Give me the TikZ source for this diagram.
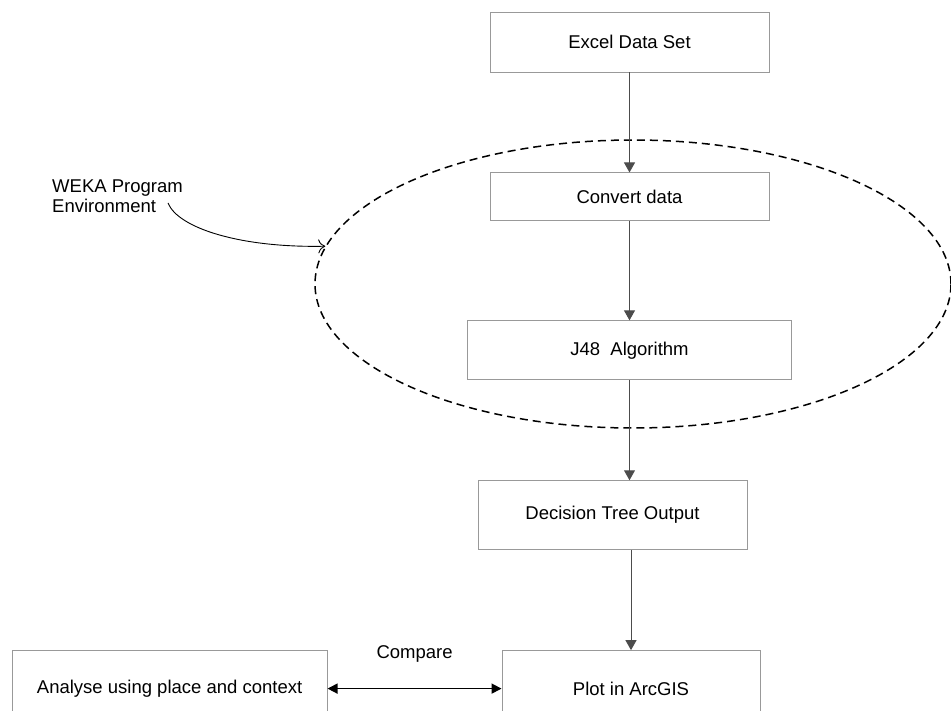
\documentclass[tikz,border=0pt]{standalone}
\usepackage{fontspec}
\setmainfont{Liberation Sans}
\usetikzlibrary{positioning}
\usetikzlibrary{shapes.geometric,arrows.meta}

\begin{document}
\begin{tikzpicture}[x=1pt, y=1pt, node distance=100pt,
    font=\fontsize{18.5}{20}\selectfont,
    box/.style={draw=black!40, line width=0.9pt, rectangle, inner sep=0pt},
    flow/.style={draw=black!70, line width=1pt, -{Triangle[length=10pt,width=11pt]}},
    env/.style={draw, dashed, dash pattern=on 8pt off 5pt, line width=1.5pt, ellipse, inner sep=0pt},
    pointer/.style={draw, line width=0.9pt, -{To[length=7pt,width=14pt]}}]
    \useasboundingbox (0,0) rectangle (951,-711);
    % Nodes
    \node [box, minimum width=279pt, minimum height=60pt] (excel) at (629.5,-42) {Excel Data Set};
    \node [box, minimum width=279pt, minimum height=48pt, below=100pt of excel] (convert) {Convert data};
    \node [box, minimum width=324pt, minimum height=59pt, below=99pt of convert] (j48) {J48\ \ Algorithm};
    \node [box, minimum width=269pt, minimum height=69pt, below=100pt of j48, xshift=-17pt] (decision) {Decision Tree Output};
    \node [box, minimum width=258pt, minimum height=76pt, below=100pt of decision, xshift=18.5pt] (plot) {Plot in ArcGIS};
    \node [box, minimum width=315pt, minimum height=76pt, left=174pt of plot] (analyse) {Analyse using place and context};

    % WEKA environment
    \node [env, minimum width=636pt, minimum height=288pt] (weka) at (633,-284) {};
    \node [align=left, anchor=north west, inner sep=0pt] (label) at (52,-180) {WEKA Program\\Environment};
    \coordinate (tail) at (168,-203);
    % Arrows
    \draw [flow] (excel) -- (convert);
    \draw [flow] (convert) -- (convert |- j48.north);
    \draw [flow] (j48.south) -- (j48.south |- decision.north);
    \draw [flow] (decision.south -| plot.north) -- (plot.north);
    \draw [line width=1.6pt, {Triangle[length=10pt,width=10pt]}-{Triangle[length=10pt,width=10pt]}] (analyse) -- node [above=22pt] (cmp) {Compare} (plot);
    \draw [pointer] (tail) .. controls (178,-228) and (240,-248) .. (weka.173);
\end{tikzpicture}
\end{document}
